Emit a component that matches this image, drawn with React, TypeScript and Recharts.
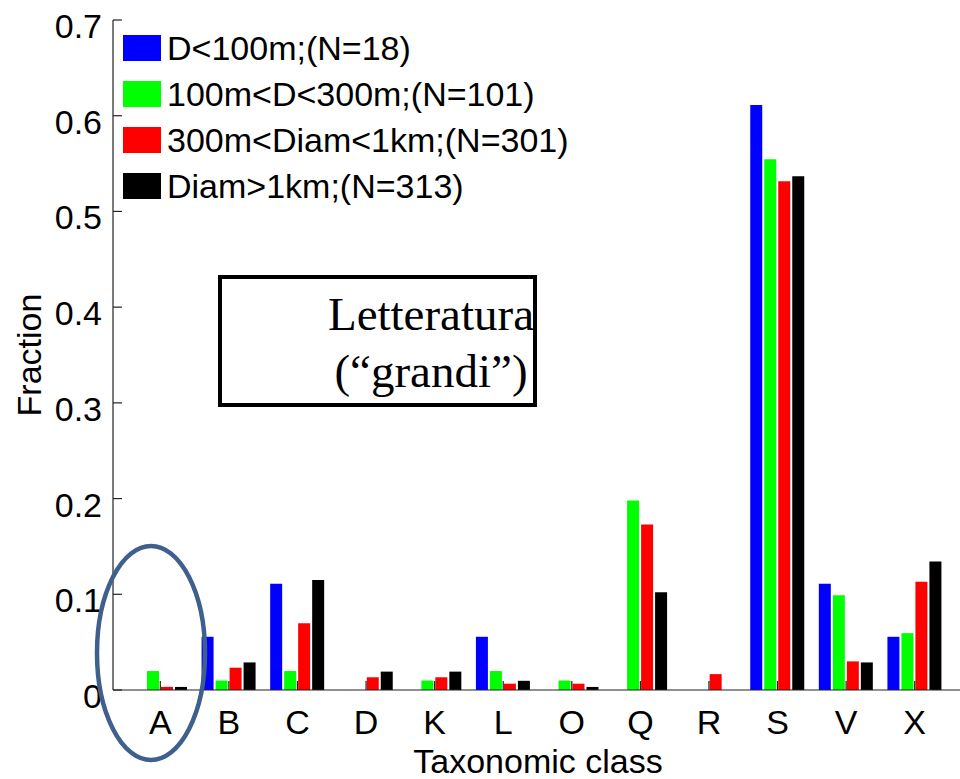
import { Bar, BarChart, XAxis, YAxis } from "recharts";

// fraction of objects per taxonomic class, one array per size bin
const CLASSES = ["A", "B", "C", "D", "K", "L", "O", "Q", "R", "S", "V", "X"];
const SMALL = [0, 0.0556, 0.1111, 0, 0, 0.0556, 0, 0, 0, 0.6111, 0.1111, 0.0556];
const MEDIUM = [0.0198, 0.0099, 0.0198, 0, 0.0099, 0.0198, 0.0099, 0.198, 0, 0.5545, 0.099, 0.0594];
const LARGE = [0.0033, 0.0233, 0.0698, 0.0133, 0.0133, 0.0066, 0.0066, 0.1728, 0.0166, 0.5316, 0.0299, 0.113];
const HUGE = [0.0032, 0.0288, 0.115, 0.0192, 0.0192, 0.0096, 0.0032, 0.1022, 0, 0.5367, 0.0288, 0.1342];
const Y_TICKS = [0, 0.1, 0.2, 0.3, 0.4, 0.5, 0.6, 0.7];

const SERIES = [
  { key: "small", name: "D<100m;(N=18)", color: "#0000ff", values: SMALL },
  { key: "medium", name: "100m<D<300m;(N=101)", color: "#00ff00", values: MEDIUM },
  { key: "large", name: "300m<Diam<1km;(N=301)", color: "#ff0000", values: LARGE },
  { key: "huge", name: "Diam>1km;(N=313)", color: "#000000", values: HUGE },
];

const data = CLASSES.map((cls, i) => {
  const row: Record<string, string | number> = { cls };
  SERIES.forEach((s) => {
    row[s.key] = s.values[i];
  });
  return row;
});

const FONT = '"Liberation Sans", Arial, Helvetica, sans-serif';
const SERIF = '"Liberation Serif", "Times New Roman", serif';
const FS = 34;
const TICK_LEN = 9;

function LeftTick({ x, y, payload }: any) {
  const v = payload.value as number;
  return (
    <g>
      <line x1={x} x2={x + TICK_LEN} y1={y} y2={y} stroke="#222" strokeWidth={1.2} />
      <text x={x - 11} y={y + 6} textAnchor="end" dominantBaseline="central" fontSize={FS} fontFamily={FONT} fill="#000">
        {v === 0 ? "0" : v.toFixed(1)}
      </text>
    </g>
  );
}

function RightTick({ x, y }: any) {
  return <line x1={x} x2={x - TICK_LEN} y1={y} y2={y} stroke="#222" strokeWidth={1.2} />;
}

function BottomTick({ x, y, payload }: any) {
  return (
    <g>
      <line x1={x} x2={x} y1={y} y2={y - TICK_LEN} stroke="#222" strokeWidth={1.2} />
      <text x={x} y={y + 44} textAnchor="middle" fontSize={FS} fontFamily={FONT} fill="#000">
        {payload.value}
      </text>
    </g>
  );
}

function TopTick({ x, y }: any) {
  return <line x1={x} x2={x} y1={y} y2={y + TICK_LEN} stroke="#222" strokeWidth={1.2} />;
}

function LegendBox() {
  return (
    <div
      style={{
        position: "absolute",
        left: 123,
        top: 25,
        fontFamily: FONT,
        fontSize: FS,
        color: "#000",
        pointerEvents: "none",
      }}
    >
      {SERIES.map((s) => (
        <div key={s.key} style={{ display: "flex", alignItems: "center", height: 46 }}>
          <div style={{ width: 38, height: 26, background: s.color, marginRight: 6 }} />
          <span style={{ lineHeight: "46px", whiteSpace: "nowrap" }}>{s.name}</span>
        </div>
      ))}
    </div>
  );
}

export default function App() {
  return (
    <div
      style={{
        position: "absolute",
        left: 0,
        top: 0,
        width: 960,
        height: 779,
        overflow: "hidden",
        background: "#fff",
      }}
    >
      <BarChart
        width={975}
        height={779}
        data={data}
        margin={{ top: 20, right: 13, bottom: 0, left: 0 }}
        barSize={12}
        barGap={2}
      >
        <XAxis
          dataKey="cls"
          height={89}
          padding={{ left: 13, right: 13 }}
          axisLine={{ stroke: "#222", strokeWidth: 1.2 }}
          tickLine={false}
          tickSize={0}
          tickMargin={0}
          tick={<BottomTick />}
          interval={0}
        />
        <XAxis
          xAxisId="top"
          orientation="top"
          dataKey="cls"
          height={0}
          padding={{ left: 13, right: 13 }}
          axisLine={{ stroke: "#222", strokeWidth: 1.2 }}
          tickLine={false}
          tickSize={0}
          tickMargin={0}
          tick={<TopTick />}
          interval={0}
        />
        <YAxis
          width={113}
          domain={[0, 0.7]}
          ticks={Y_TICKS}
          allowDataOverflow
          axisLine={{ stroke: "#222", strokeWidth: 1.2 }}
          tickLine={false}
          tickSize={0}
          tickMargin={0}
          tick={<LeftTick />}
          interval={0}
        />
        <YAxis
          yAxisId="right"
          orientation="right"
          width={0}
          domain={[0, 0.7]}
          ticks={Y_TICKS}
          allowDataOverflow
          axisLine={{ stroke: "#222", strokeWidth: 1.2 }}
          tickLine={false}
          tickSize={0}
          tickMargin={0}
          tick={<RightTick />}
          interval={0}
        />
        {SERIES.map((s) => (
          <Bar key={s.key} dataKey={s.key} name={s.name} fill={s.color} isAnimationActive={false} />
        ))}
      </BarChart>
      <LegendBox />
      <svg
        width={960}
        height={779}
        style={{ position: "absolute", left: 0, top: 0, pointerEvents: "none" }}
      >
        <text
          x={0}
          y={0}
          transform="translate(41 355) rotate(-90)"
          textAnchor="middle"
          fontSize={FS}
          fontFamily={FONT}
          fill="#000"
        >
          Fraction
        </text>
        <text x={538} y={773} textAnchor="middle" fontSize={FS} fontFamily={FONT} fill="#000">
          Taxonomic class
        </text>
        <rect x={220} y={277} width={315} height={128} fill="#fff" stroke="#000" strokeWidth={4} />
        <text x={431} y={330} textAnchor="middle" fontSize={47} fontFamily={SERIF} fill="#000">
          Letteratura
        </text>
        <text x={431} y={387} textAnchor="middle" fontSize={47} fontFamily={SERIF} fill="#000">
          (“grandi”)
        </text>
        <ellipse cx={151} cy={653} rx={54} ry={107} fill="none" stroke="#3f5f8d" strokeWidth={4.5} />
      </svg>
    </div>
  );
}
